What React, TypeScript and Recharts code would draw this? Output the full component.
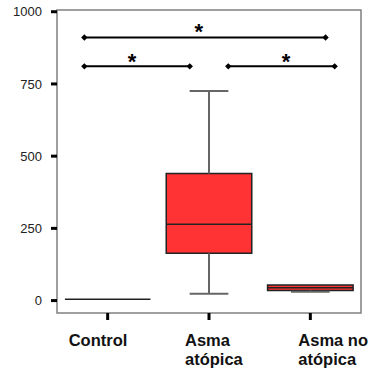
import { ComposedChart, XAxis, YAxis, Scatter, ReferenceArea, ReferenceLine } from "recharts";

const categories = ["Control", "Asma atópica", "Asma no atópica"];
const catPos = [1, 2, 3];
const whiskerMin = [5, 24, 31];
const q1 = [5, 164, 35];
const median = [5, 264, 44];
const q3 = [5, 440, 54];
const whiskerMax = [5, 726, 54];

const yTicks = [0, 250, 500, 750, 1000];

// significance brackets
const bracketY = [911, 811, 811];
const bracketFrom = [0.77, 0.77, 2.19];
const bracketTo = [3.15, 1.81, 3.24];
const starX = [1.9, 1.24, 2.76];
const starY = [950, 846, 846];

const FONT = "'Liberation Sans', Arial, sans-serif";
const BOX_HALF = 0.422;
const CAP_HALF = 0.191;

const diamonds = bracketY.flatMap((y, i) => [
  { x: bracketFrom[i], y },
  { x: bracketTo[i], y },
]);
const stars = starX.map((x, i) => ({ x, y: starY[i] }));

const labelLines = [["Control"], ["Asma", "atópica"], ["Asma no", "atópica"]];
const labelShift = [-39, -24, -12];

function CategoryTick(props: any) {
  const { x, y, payload } = props;
  const i = catPos.indexOf(payload.value);
  if (i < 0) return null;
  return (
    <text x={x + labelShift[i]} y={y + 24} fontFamily={FONT} fontSize={16.5} fontWeight="bold" fill="#111">
      {labelLines[i].map((l, k) => (
        <tspan key={k} x={x + labelShift[i]} dy={k === 0 ? 0 : 18.5}>
          {l}
        </tspan>
      ))}
    </text>
  );
}

function Diamond(props: any) {
  const { cx, cy } = props;
  return <polygon points={`${cx - 3.2},${cy} ${cx},${cy - 3.2} ${cx + 3.2},${cy} ${cx},${cy + 3.2}`} fill="#000" />;
}

function Star(props: any) {
  const { cx, cy } = props;
  return (
    <text x={cx} y={cy + 12.5} textAnchor="middle" fontFamily={FONT} fontSize={22} fontWeight="bold" fill="#000">
      *
    </text>
  );
}

export default function App() {
  return (
    <div style={{ position: "absolute", left: 0, top: 0, width: 372, height: 371 }}>
      <ComposedChart width={372} height={371} margin={{ top: 10, right: 11, left: 13, bottom: 0 }} style={{ overflow: "visible" }}>
        <XAxis
          dataKey="x"
          type="number"
          domain={[0.5, 3.5]}
          ticks={catPos}
          allowDataOverflow
          axisLine={false}
          tickSize={7}
          tickLine={{ stroke: "#000", strokeWidth: 3 }}
          tick={<CategoryTick />}
          height={58}
          interval={0}
        />
        <YAxis
          dataKey="y"
          type="number"
          domain={[-43, 1006]}
          ticks={yTicks}
          allowDataOverflow
          axisLine={false}
          tickSize={6}
          tickMargin={9}
          tickLine={{ stroke: "#000", strokeWidth: 3 }}
          tick={{ fontFamily: FONT, fontSize: 13, fill: "#222" }}
          width={44}
          interval={0}
        />
        <ReferenceArea x1={0.5} x2={3.5} y1={-43} y2={1006} fill="none" stroke="#808080" strokeWidth={1.5} />
        {catPos.map((c, i) =>
          whiskerMax[i] > q3[i] ? (
            <ReferenceLine key={`wu${i}`} segment={[{ x: c, y: q3[i] }, { x: c, y: whiskerMax[i] }]} stroke="#666" strokeWidth={2} />
          ) : null
        )}
        {catPos.map((c, i) =>
          whiskerMax[i] > q3[i] ? (
            <ReferenceLine key={`cu${i}`} segment={[{ x: c - CAP_HALF, y: whiskerMax[i] }, { x: c + CAP_HALF, y: whiskerMax[i] }]} stroke="#666" strokeWidth={2} />
          ) : null
        )}
        {catPos.map((c, i) =>
          whiskerMin[i] < q1[i] ? (
            <ReferenceLine key={`wl${i}`} segment={[{ x: c, y: whiskerMin[i] }, { x: c, y: q1[i] }]} stroke="#666" strokeWidth={2} />
          ) : null
        )}
        {catPos.map((c, i) =>
          whiskerMin[i] < q1[i] ? (
            <ReferenceLine key={`cl${i}`} segment={[{ x: c - CAP_HALF, y: whiskerMin[i] }, { x: c + CAP_HALF, y: whiskerMin[i] }]} stroke="#666" strokeWidth={2} />
          ) : null
        )}
        {catPos.map((c, i) =>
          q3[i] > q1[i] ? (
            <ReferenceArea key={`b${i}`} x1={c - BOX_HALF} x2={c + BOX_HALF} y1={q1[i]} y2={q3[i]} fill="#ff3333" fillOpacity={1} stroke="#222" strokeWidth={1.5} />
          ) : null
        )}
        {catPos.map((c, i) => (
          <ReferenceLine key={`m${i}`} segment={[{ x: c - BOX_HALF, y: median[i] }, { x: c + BOX_HALF, y: median[i] }]} stroke="#222" strokeWidth={1.5} />
        ))}
        {bracketY.map((y, i) => (
          <ReferenceLine key={`s${i}`} segment={[{ x: bracketFrom[i], y }, { x: bracketTo[i], y }]} stroke="#000" strokeWidth={2} />
        ))}
        <Scatter data={diamonds} shape={<Diamond />} isAnimationActive={false} />
        <Scatter data={stars} shape={<Star />} isAnimationActive={false} />
      </ComposedChart>
    </div>
  );
}
